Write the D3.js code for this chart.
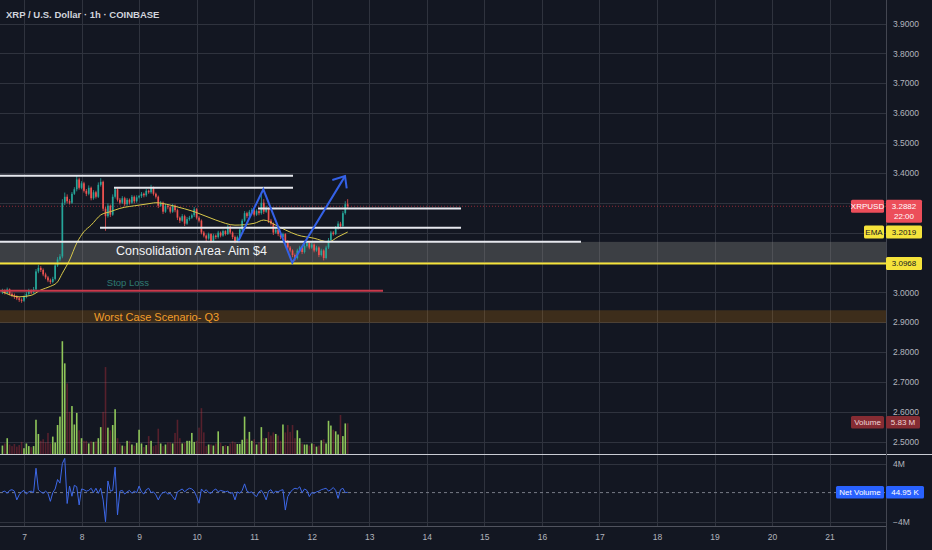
<!DOCTYPE html>
<html>
<head>
<meta charset="utf-8">
<script src="https://cdn.jsdelivr.net/npm/d3@7"></script>
<style>
  body { margin: 0; background: #131722; }
  svg { display: block; font-family: "Liberation Sans", Arial, sans-serif; }
</style>
</head>
<body>
<svg id="chart" width="932" height="550"></svg>
<script>
var W = 932, H = 550;
var axisX = 886;

// ticks
var dayTicks = [7, 8, 9, 10, 11, 12, 13, 14, 15, 16, 17, 18, 19, 20, 21];
var priceTicks = [2.5, 2.6, 2.7, 2.8, 2.9, 3.0, 3.1, 3.2, 3.3, 3.4, 3.5, 3.6, 3.7, 3.8, 3.9];
var coveredTicks = [3.1, 3.2, 3.3]; // sit under the price tags
var netTicks = [4, -4];

// hourly XRPUSD bars, first one on the 6th at 15:00
var firstDay = 6 + 15 / 24;
var firstOpen = 3.000;
var closes = [
  3.005, 2.998, 3.010, 2.995, 2.990, 2.985, 2.980, 2.975, 2.972, 2.985,
  2.995, 3.005, 3.000, 3.010, 3.070, 3.082, 3.075, 3.060, 3.050, 3.040,
  3.035, 3.045, 3.090, 3.110, 3.120, 3.300, 3.320, 3.305, 3.300, 3.330,
  3.345, 3.378, 3.350, 3.365, 3.340, 3.330, 3.350, 3.315, 3.335, 3.320,
  3.360, 3.370, 3.280, 3.255, 3.290, 3.260, 3.320, 3.345, 3.310, 3.300,
  3.315, 3.295, 3.310, 3.300, 3.320, 3.305, 3.318, 3.322, 3.330, 3.325,
  3.340, 3.335, 3.350, 3.330, 3.320, 3.290, 3.300, 3.270, 3.290, 3.285,
  3.270, 3.290, 3.275, 3.250, 3.240, 3.255, 3.230, 3.245, 3.250, 3.258,
  3.278, 3.250, 3.240, 3.200, 3.190, 3.180, 3.195, 3.172, 3.190, 3.185,
  3.200, 3.190, 3.205, 3.195, 3.220, 3.200, 3.185, 3.170, 3.185, 3.210,
  3.240, 3.265, 3.255, 3.270, 3.275, 3.260, 3.272, 3.265, 3.300, 3.270,
  3.280, 3.240, 3.230, 3.200, 3.210, 3.195, 3.185, 3.195, 3.170, 3.150,
  3.140, 3.125, 3.115, 3.140, 3.150, 3.135, 3.155, 3.165, 3.150, 3.160,
  3.140, 3.150, 3.125, 3.140, 3.115, 3.150, 3.175, 3.200, 3.195, 3.215,
  3.230, 3.222, 3.265, 3.295, 3.2882
];
var highs = [
  3.012, 3.010, 3.016, 3.013, 3.000, 2.996, 2.990, 2.986, 2.980, 2.990,
  3.002, 3.012, 3.010, 3.018, 3.078, 3.092, 3.088, 3.080, 3.066, 3.055,
  3.046, 3.052, 3.096, 3.118, 3.128, 3.312, 3.334, 3.328, 3.312, 3.336,
  3.352, 3.392, 3.384, 3.372, 3.370, 3.346, 3.358, 3.354, 3.342, 3.340,
  3.368, 3.382, 3.374, 3.286, 3.298, 3.294, 3.328, 3.352, 3.348, 3.316,
  3.322, 3.320, 3.316, 3.314, 3.326, 3.324, 3.325, 3.326, 3.336, 3.334,
  3.346, 3.344, 3.360, 3.354, 3.334, 3.324, 3.306, 3.304, 3.296, 3.294,
  3.290, 3.296, 3.294, 3.280, 3.254, 3.262, 3.260, 3.252, 3.256, 3.264,
  3.286, 3.282, 3.255, 3.244, 3.205, 3.194, 3.200, 3.198, 3.196, 3.194,
  3.206, 3.204, 3.210, 3.208, 3.226, 3.224, 3.204, 3.190, 3.190, 3.216,
  3.246, 3.272, 3.270, 3.276, 3.282, 3.280, 3.278, 3.276, 3.336, 3.312,
  3.290, 3.284, 3.246, 3.234, 3.216, 3.214, 3.200, 3.200, 3.198, 3.175,
  3.155, 3.144, 3.130, 3.146, 3.156, 3.154, 3.162, 3.172, 3.168, 3.166,
  3.164, 3.156, 3.154, 3.146, 3.144, 3.156, 3.182, 3.206, 3.205, 3.222,
  3.238, 3.236, 3.272, 3.305, 3.312
];
var lows = [
  2.994, 2.993, 2.994, 2.990, 2.984, 2.978, 2.974, 2.968, 2.965, 2.968,
  2.980, 2.990, 2.994, 2.995, 3.004, 3.064, 3.068, 3.054, 3.044, 3.034,
  3.028, 3.030, 3.040, 3.085, 3.104, 3.114, 3.292, 3.298, 3.294, 3.296,
  3.326, 3.338, 3.344, 3.345, 3.334, 3.322, 3.325, 3.308, 3.310, 3.314,
  3.316, 3.354, 3.272, 3.206, 3.250, 3.252, 3.256, 3.314, 3.304, 3.294,
  3.296, 3.288, 3.290, 3.294, 3.296, 3.298, 3.300, 3.314, 3.316, 3.318,
  3.320, 3.330, 3.330, 3.324, 3.314, 3.282, 3.286, 3.262, 3.266, 3.278,
  3.264, 3.266, 3.268, 3.242, 3.232, 3.236, 3.222, 3.226, 3.240, 3.246,
  3.252, 3.244, 3.234, 3.194, 3.184, 3.172, 3.176, 3.165, 3.168, 3.178,
  3.180, 3.184, 3.186, 3.190, 3.192, 3.194, 3.178, 3.164, 3.166, 3.180,
  3.205, 3.236, 3.248, 3.250, 3.264, 3.254, 3.256, 3.258, 3.260, 3.262,
  3.266, 3.232, 3.224, 3.192, 3.196, 3.188, 3.178, 3.180, 3.164, 3.144,
  3.134, 3.118, 3.105, 3.110, 3.135, 3.128, 3.130, 3.150, 3.144, 3.146,
  3.134, 3.136, 3.118, 3.120, 3.107, 3.110, 3.145, 3.170, 3.190, 3.192,
  3.210, 3.218, 3.218, 3.260, 3.280
];
// volume, millions
var volumes = [
  1.6, 2.0, 3.0, 1.8, 1.5, 1.9, 1.4, 1.7, 2.3, 1.1,
  2.0, 1.5, 1.3, 1.5, 6.5, 3.8, 2.5, 2.8, 2.2, 4.0,
  2.0, 3.3, 2.2, 5.5, 7.1, 21.4, 17.2, 13.4, 8.0, 9.1,
  5.6, 7.8, 4.5, 3.0, 2.5, 2.5, 2.0, 2.4, 2.3, 2.4,
  3.0, 5.1, 8.0, 16.5, 5.0, 4.5, 5.5, 8.5, 3.0, 2.0,
  1.6, 1.5, 2.5, 2.5, 1.8, 1.6, 2.1, 4.6, 2.0, 1.3,
  1.7, 3.4, 2.5, 1.5, 1.7, 4.8, 2.0, 1.5, 1.8, 2.2,
  2.2, 2.0, 4.0, 6.5, 3.0, 2.0, 2.1, 2.5, 2.5, 4.0,
  2.3, 2.5, 5.0, 8.7, 4.1, 1.5, 1.8, 1.8, 1.6, 2.0,
  4.3, 2.1, 1.5, 1.7, 1.5, 2.0, 2.4, 2.2, 1.9, 1.9,
  2.7, 7.1, 2.9, 4.2, 2.5, 2.8, 1.8, 2.2, 5.1, 3.0,
  3.0, 4.2, 3.5, 4.1, 3.8, 3.5, 2.5, 5.6, 4.1, 5.5,
  4.2, 5.5, 3.0, 4.5, 3.0, 2.0, 1.8, 1.8, 1.6, 2.0,
  1.9, 1.4, 1.6, 2.6, 2.8, 2.0, 6.3, 5.4, 4.6, 4.3,
  3.7, 7.4, 3.4, 5.8, 5.83
];
// net volume, millions
var netVolumes = [
  0.1, 0.2, -0.1, 0.3, 0.4, 0.2, -1.0, -0.3, 0.1, 0.3,
  -0.2, 0.1, 0.2, 0.0, 3.35, 0.4, 0.1, -0.1, 0.2, -0.1,
  -1.2, 0.0, 0.5, 1.8, 1.3, 4.0, 4.7, -1.5, 0.9, -0.5,
  1.0, 0.8, -1.7, 0.5, 0.4, 0.2, 0.3, 0.6, 0.0, 0.6,
  -0.1, 0.6, -1.0, -4.0, 1.6, 0.2, 0.3, 3.5, -3.06, 0.2,
  0.3, -0.2, 0.1, 0.3, -0.1, 0.2, 0.0, 0.9, 0.1, -0.2,
  0.4, 0.6, 0.0, 0.1, -0.3, -1.0, -0.3, 0.0, 0.1, -0.2,
  -0.1, -0.55, -1.0, 0.1, 0.3, 0.5, 0.1, 0.4, 0.6, 0.5,
  0.2, -0.55, -1.46, 0.5, 0.1, 0.4, 0.0, -0.1, 0.3, 0.5,
  0.1, 0.3, 0.2, 0.1, 0.2, -0.1, 0.0, -1.0, 0.1, -0.1,
  0.3, 1.2, 0.2, 0.0, 0.1, -0.3, -0.55, 0.1, 0.3, -0.2,
  -1.0, 0.2, 0.4, -0.1, 0.2, 0.1, 0.3, 0.4, -2.4, -0.55,
  0.0, 0.4, 0.6, 0.5, 0.8, 0.0, 0.5, 0.3, -0.55, 0.0,
  -0.1, 0.1, 0.2, 0.4, 0.5, 0.6, 0.2, 0.4, 0.7, 0.3,
  -0.8, 0.4, 0.6, 0.0, 0.045
];
// EMA (bar index -> value)
var emaIdx = [0, 7, 12, 16, 20, 23, 25, 28, 31, 34, 37, 41, 45, 49, 57, 62, 64, 70, 72, 80, 89, 97, 105, 109, 114, 118, 123, 130, 136, 140, 144];
var emaVal = [3.002, 2.985, 2.990, 3.008, 3.020, 3.035, 3.064, 3.108, 3.165, 3.203, 3.225, 3.259, 3.270, 3.281, 3.292, 3.298, 3.300, 3.292, 3.288, 3.270, 3.242, 3.225, 3.231, 3.242, 3.225, 3.209, 3.192, 3.181, 3.169, 3.186, 3.2019];

// user drawings: [fromDay, toDay, price]
var whiteLevels = [[6.5, 11.675, 3.390], [8.564, 11.675, 3.350], [11.067, 14.595, 3.281], [8.321, 14.595, 3.216], [6.5, 16.68, 3.169]];
var stopLoss = [6.5, 13.239, 3.005];
var consolidation = [3.0968, 3.169];
var worstCase = [2.898, 2.940];
var support = 3.0968;
var arrowPath = [[10.724, 3.172], [11.159, 3.345], [11.663, 3.099], [12.579, 3.389]];
var arrowHead = [[12.358, 3.376], [12.579, 3.389], [12.608, 3.348]];
var lastPrice = 3.2882, lastEma = 3.2019, lastVol = 5.83, lastNet = 0.045;

var svg = d3.select("#chart");
svg.append("rect").attr("width", W).attr("height", H).attr("fill", "#131722");

var x = d3.scaleLinear().domain([7, 21]).range([24, 829.6]);
var y = d3.scaleLinear().domain([2.5, 3.9]).range([441.7, 23.5]);
var vy = d3.scaleLinear().domain([0, 21.5]).range([454, 340.7]);
var ny = d3.scaleLinear().domain([-4, 4]).range([521.7, 463.5]);

var bars = closes.map(function(c, i) {
  return {
    t: firstDay + i / 24,
    o: i ? closes[i - 1] : firstOpen,
    c: c, h: highs[i], l: lows[i],
    v: volumes[i], n: netVolumes[i]
  };
});

var defs = svg.append("defs");
defs.append("clipPath").attr("id", "mainClip").append("rect")
  .attr("x", 0).attr("y", 0).attr("width", axisX).attr("height", 454);
defs.append("clipPath").attr("id", "netClip").append("rect")
  .attr("x", 0).attr("y", 455).attr("width", axisX).attr("height", 71);

// grid
var grid = svg.append("g").attr("stroke", "#2f333e").attr("stroke-width", 1);
grid.selectAll(".vg").data(dayTicks).enter().append("line")
  .attr("x1", function(d) { return Math.round(x(d)) + 0.5; })
  .attr("x2", function(d) { return Math.round(x(d)) + 0.5; })
  .attr("y1", 0).attr("y2", 526);
grid.selectAll(".hg").data(priceTicks).enter().append("line")
  .attr("x1", 0).attr("x2", axisX)
  .attr("y1", function(d) { return Math.round(y(d)) + 0.5; })
  .attr("y2", function(d) { return Math.round(y(d)) + 0.5; });
grid.selectAll(".ng").data(netTicks).enter().append("line")
  .attr("x1", 0).attr("x2", axisX)
  .attr("y1", function(d) { return Math.round(ny(d)) + 0.5; })
  .attr("y2", function(d) { return Math.round(ny(d)) + 0.5; });

var main = svg.append("g").attr("clip-path", "url(#mainClip)");

// zones
main.append("rect")
  .attr("x", 0).attr("width", axisX)
  .attr("y", y(worstCase[1])).attr("height", y(worstCase[0]) - y(worstCase[1]))
  .attr("fill", "rgba(255,152,0,0.18)");
main.append("rect")
  .attr("x", 0).attr("width", axisX)
  .attr("y", y(consolidation[1])).attr("height", y(consolidation[0]) - y(consolidation[1]))
  .attr("fill", "rgba(140,140,135,0.34)");

// volume
var bw = (x(1) - x(0)) / 24;
main.selectAll(".vol").data(bars).enter().append("rect")
  .attr("x", function(d) { return x(d.t) - 0.8; })
  .attr("width", 1.6)
  .attr("y", function(d) { return vy(d.v); })
  .attr("height", function(d) { return 454 - vy(d.v); })
  .attr("fill", function(d) { return d.c >= d.o ? "#8fc65a" : "rgba(242,54,69,0.3)"; });

// current price dotted line
main.append("line")
  .attr("x1", 0).attr("x2", axisX)
  .attr("y1", y(lastPrice)).attr("y2", y(lastPrice))
  .attr("stroke", "#f23645").attr("stroke-opacity", 0.55)
  .attr("stroke-dasharray", "1,2");

// candles
var cg = main.append("g");
cg.selectAll(".wick").data(bars).enter().append("line")
  .attr("x1", function(d) { return x(d.t); })
  .attr("x2", function(d) { return x(d.t); })
  .attr("y1", function(d) { return y(d.h); })
  .attr("y2", function(d) { return y(d.l); })
  .attr("stroke", function(d) { return d.c >= d.o ? "#26a69a" : "#ef5350"; })
  .attr("stroke-width", 0.8);
cg.selectAll(".body").data(bars).enter().append("rect")
  .attr("x", function(d) { return x(d.t) - bw * 0.35; })
  .attr("width", bw * 0.7)
  .attr("y", function(d) { return y(Math.max(d.o, d.c)); })
  .attr("height", function(d) { return Math.max(1, Math.abs(y(d.o) - y(d.c))); })
  .attr("fill", function(d) { return d.c >= d.o ? "#26a69a" : "#ef5350"; });

// EMA
var emaLine = d3.line()
  .x(function(d, i) { return x(firstDay + emaIdx[i] / 24); })
  .y(function(d) { return y(d); })
  .curve(d3.curveMonotoneX);
main.append("path").datum(emaVal)
  .attr("d", emaLine)
  .attr("fill", "none").attr("stroke", "#d9c94a").attr("stroke-width", 1);

// drawings
main.selectAll(".lvl").data(whiteLevels).enter().append("line")
  .attr("x1", function(d) { return x(d[0]); })
  .attr("x2", function(d) { return x(d[1]); })
  .attr("y1", function(d) { return y(d[2]); })
  .attr("y2", function(d) { return y(d[2]); })
  .attr("stroke", "#e6e8ee").attr("stroke-width", 2);
main.append("line")
  .attr("x1", x(stopLoss[0])).attr("x2", x(stopLoss[1]))
  .attr("y1", y(stopLoss[2])).attr("y2", y(stopLoss[2]))
  .attr("stroke", "#c93a4c").attr("stroke-width", 2);
main.append("line")
  .attr("x1", 0).attr("x2", axisX)
  .attr("y1", y(support)).attr("y2", y(support))
  .attr("stroke", "#f5e33b").attr("stroke-width", 2);

var pt = d3.line().x(function(d) { return x(d[0]); }).y(function(d) { return y(d[1]); });
main.append("path").datum(arrowPath).attr("d", pt)
  .attr("fill", "none").attr("stroke", "#3461e6").attr("stroke-width", 2)
  .attr("stroke-linejoin", "miter");
main.append("path").datum(arrowHead).attr("d", pt)
  .attr("fill", "none").attr("stroke", "#3461e6").attr("stroke-width", 2);

main.append("text").attr("x", x(8.6)).attr("y", y(3.138))
  .attr("dominant-baseline", "central")
  .attr("font-size", 12.5).attr("fill", "#f2f3f5")
  .text("Consolidation Area- Aim $4");
main.append("text").attr("x", x(8.44)).attr("y", y(3.033))
  .attr("dominant-baseline", "central")
  .attr("font-size", 9.5).attr("fill", "#2f7a72")
  .text("Stop Loss");
main.append("text").attr("x", x(8.217)).attr("y", y(2.919))
  .attr("dominant-baseline", "central")
  .attr("font-size", 11).attr("fill", "#f29d2a")
  .text("Worst Case Scenario- Q3");

// net volume pane
var net = svg.append("g").attr("clip-path", "url(#netClip)");
net.append("line")
  .attr("x1", 0).attr("x2", axisX)
  .attr("y1", ny(0)).attr("y2", ny(0))
  .attr("stroke", "#787b86").attr("stroke-dasharray", "3,3");
net.append("path").datum(bars)
  .attr("d", d3.line().x(function(d) { return x(d.t); }).y(function(d) { return ny(d.n); }))
  .attr("fill", "none").attr("stroke", "#3d68e8").attr("stroke-width", 1);

// pane separators and axis borders
svg.append("line").attr("x1", 0).attr("x2", W).attr("y1", 454.5).attr("y2", 454.5)
  .attr("stroke", "#c9ccd4").attr("stroke-width", 1);
svg.append("line").attr("x1", 0).attr("x2", axisX).attr("y1", 526.5).attr("y2", 526.5)
  .attr("stroke", "#50535e").attr("stroke-width", 1);
svg.append("line").attr("x1", axisX + 0.5).attr("x2", axisX + 0.5).attr("y1", 0).attr("y2", H)
  .attr("stroke", "#434651").attr("stroke-width", 1);

// axes
function styleAxis(g) {
  g.select(".domain").remove();
  g.selectAll("text").attr("fill", "#b2b5be").attr("font-size", 8.5)
    .attr("font-family", "'Liberation Sans', Arial, sans-serif");
}
var shownTicks = priceTicks.filter(function(d) { return coveredTicks.indexOf(d) < 0; });
svg.append("g").attr("transform", "translate(" + (axisX + 1) + ",0)")
  .call(d3.axisRight(y).tickValues(shownTicks).tickFormat(d3.format(".4f")).tickSize(0).tickPadding(6))
  .call(styleAxis);
svg.append("g").attr("transform", "translate(" + (axisX + 1) + ",0)")
  .call(d3.axisRight(ny).tickValues(netTicks).tickFormat(function(d) { return d3.format("d")(d) + "M"; }).tickSize(0).tickPadding(6))
  .call(styleAxis);
svg.append("g").attr("transform", "translate(0,527)")
  .call(d3.axisBottom(x).tickValues(dayTicks).tickFormat(d3.format("d")).tickSize(0).tickPadding(7))
  .call(styleAxis);

// price tags on the right
function tag(x0, x1, yc, h, fill, txt, color) {
  svg.append("rect").attr("x", x0).attr("y", yc - h / 2).attr("width", x1 - x0).attr("height", h)
    .attr("rx", 1.5).attr("fill", fill);
  svg.append("text").attr("x", (x0 + x1) / 2).attr("y", yc)
    .attr("text-anchor", "middle").attr("dominant-baseline", "central")
    .attr("font-size", 8).attr("fill", color).text(txt);
}
var py = y(lastPrice);
svg.append("rect").attr("x", axisX).attr("y", py - 6.5).attr("width", 36).attr("height", 23)
  .attr("rx", 1.5).attr("fill", "#ec4e5a");
svg.append("text").attr("x", axisX + 18).attr("y", py)
  .attr("text-anchor", "middle").attr("dominant-baseline", "central")
  .attr("font-size", 8).attr("fill", "#ffffff").text(d3.format(".4f")(lastPrice));
svg.append("text").attr("x", axisX + 18).attr("y", py + 10.5)
  .attr("text-anchor", "middle").attr("dominant-baseline", "central")
  .attr("font-size", 8).attr("fill", "#ffffff").text("22:00");
tag(851, 884, py, 13, "#ec4e5a", "XRPUSD", "#ffffff");
tag(864, 884, y(lastEma), 13, "#f5e33b", "EMA", "#131722");
tag(axisX, 922, y(lastEma), 13, "#f5e33b", d3.format(".4f")(lastEma), "#131722");
tag(axisX, 922, y(support), 13, "#f5e33b", d3.format(".4f")(support), "#131722");
tag(851, 884, vy(lastVol) - 1, 12.5, "#862c33", "Volume", "#f0d6d8");
tag(axisX, 920, vy(lastVol) - 1, 12.5, "#862c33", lastVol + " M", "#f0d6d8");
tag(836, 884, ny(lastNet), 12.5, "#2962ff", "Net Volume", "#ffffff");
tag(axisX, 924, ny(lastNet), 12.5, "#2962ff", "44.95 K", "#ffffff");

// title
svg.append("text").attr("x", 6).attr("y", 14)
  .attr("dominant-baseline", "central")
  .attr("font-size", 9.5).attr("font-weight", 600).attr("fill", "#d1d4dc")
  .text("XRP / U.S. Dollar \u00b7 1h \u00b7 COINBASE");
</script>
</body>
</html>
